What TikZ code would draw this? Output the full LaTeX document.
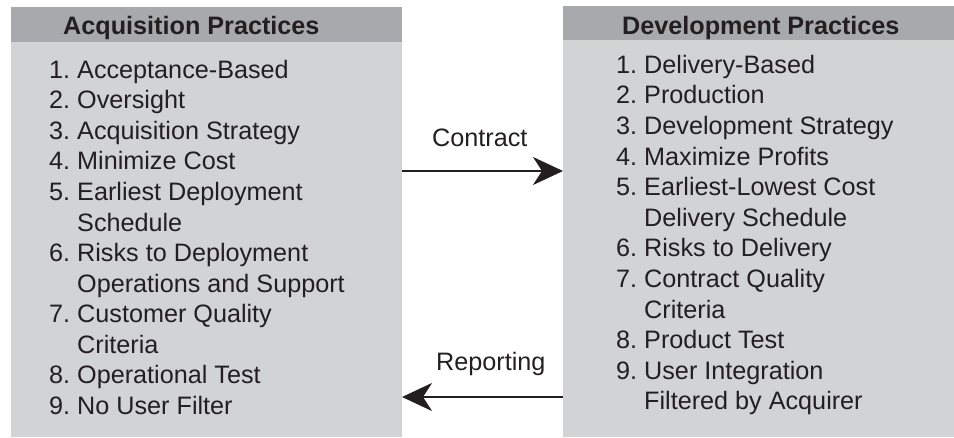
\documentclass[tikz,border=0pt]{standalone}
\usepackage{fontspec}
\setmainfont{Liberation Sans}
\frenchspacing
\usetikzlibrary{arrows.meta}
\definecolor{headgray}{HTML}{A7A9AC}
\definecolor{bodygray}{HTML}{D1D3D4}
\definecolor{ink}{HTML}{231F20}
\tikzset{
  panel/.style={fill=bodygray, inner sep=0, outer sep=0, anchor=north west},
  headband/.style={fill=headgray, inner sep=0, outer sep=0, anchor=north west},
  headtext/.style={font=\fontsize{25.2}{30}\selectfont\bfseries, text=ink, inner sep=0, anchor=base west},
  item/.style={font=\fontsize{25.2}{30}\selectfont, text=ink, inner sep=0, anchor=base west},
  flow/.style={draw=ink, line width=2pt, -{Stealth[length=30pt, width=28pt, inset=9pt]}}
}
\begin{document}
\begin{tikzpicture}[x=1pt,y=-1pt]
\frenchspacing
\useasboundingbox (0,0) rectangle (954,437);
% boxes
\node[panel, minimum width=391pt, minimum height=430pt] (lbox) at (11,7) {};
\node[headband, minimum width=391pt, minimum height=35pt] (lhead) at (11,7) {};
\node[panel, minimum width=391pt, minimum height=431pt] (rbox) at (563,6) {};
\node[headband, minimum width=391pt, minimum height=34pt] (rhead) at (563,6) {};
% headers
\node[headtext] (ltitle) at (63,34.5) {Acquisition Practices};
\node[headtext] (rtitle) at (622,34.5) {Development Practices};
% left list
\node[item] (a1) at (49,78.3) {1. Acceptance-Based};
\node[item] (a2) at (49,108.85) {2. Oversight};
\node[item] (a3) at (49,139.4) {3. Acquisition Strategy};
\node[item] (a4) at (49,169.95) {4. Minimize Cost};
\node[item] (a5) at (49,200.5) {5. Earliest Deployment};
\node[item] (a5b) at (77,231.05) {Schedule};
\node[item] (a6) at (49,261.6) {6. Risks to Deployment};
\node[item] (a6b) at (77,292.15) {Operations and Support};
\node[item] (a7) at (49,322.7) {7. Customer Quality};
\node[item] (a7b) at (77,353.25) {Criteria};
\node[item] (a8) at (49,383.8) {8. Operational Test};
\node[item] (a9) at (49,414.35) {9. No User Filter};
% right list
\node[item] (b1) at (616,73.3) {1. Delivery-Based};
\node[item] (b2) at (616,103.9) {2. Production};
\node[item] (b3) at (616,134.5) {3. Development Strategy};
\node[item] (b4) at (616,165.1) {4. Maximize Profits};
\node[item] (b5) at (616,195.7) {5. Earliest-Lowest Cost};
\node[item] (b5b) at (644,226.3) {Delivery Schedule};
\node[item] (b6) at (616,256.9) {6. Risks to Delivery};
\node[item] (b7) at (616,287.5) {7. Contract Quality};
\node[item] (b7b) at (644,318.1) {Criteria};
\node[item] (b8) at (616,348.7) {8. Product Test};
\node[item] (b9) at (616,379.3) {9. User Integration};
\node[item] (b9b) at (644,409.9) {Filtered by Acquirer};
% connectors
\coordinate (cy) at (0,171);
\coordinate (ry) at (0,397);
\draw[flow] (lbox.east |- cy) -- (rbox.west |- cy);
\draw[flow] (rbox.west |- ry) -- (lbox.east |- ry);
\node[item] (clab) at (432,146.7) {Contract};
\node[item] (rlab) at (436,370) {Reporting};
\end{tikzpicture}
\end{document}
